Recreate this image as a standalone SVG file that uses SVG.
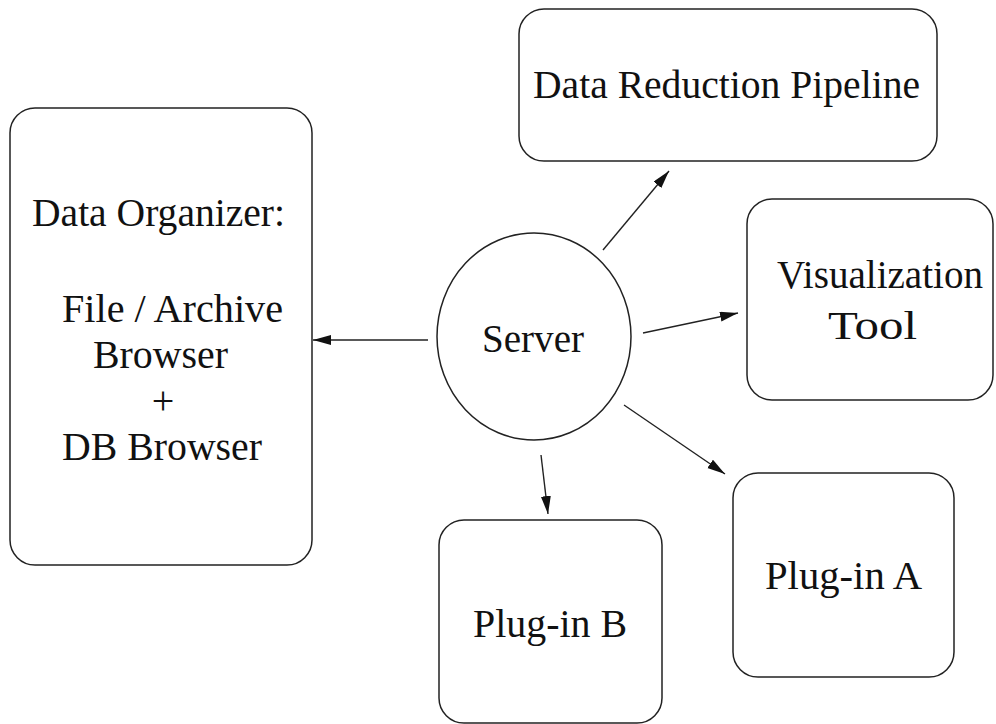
<svg xmlns="http://www.w3.org/2000/svg" width="996" height="724" viewBox="0 0 996 724">
<defs>
<style>
.box{fill:#fff;stroke:#222;stroke-width:1.5}
.lbl{font-family:"Liberation Serif","Times New Roman",serif;font-size:40px;fill:#111;text-anchor:middle}
.conn{stroke:#222;stroke-width:1.4;fill:none;marker-end:url(#ah)}
</style>
<marker id="ah" markerUnits="userSpaceOnUse" markerWidth="20" markerHeight="12" refX="18" refY="5" orient="auto">
<path d="M0,0 L18,5 L0,10 Z" fill="#111"/>
</marker>
</defs>
<rect width="996" height="724" fill="#fff"/>
<g id="connectors">
<line class="conn" x1="428" y1="340" x2="313" y2="340"/>
<line class="conn" x1="603" y1="250" x2="669" y2="171"/>
<line class="conn" x1="643" y1="333" x2="738" y2="313"/>
<line class="conn" x1="624" y1="405" x2="725" y2="474"/>
<line class="conn" x1="541" y1="455" x2="548" y2="514"/>
</g>
<g id="data-organizer">
<rect class="box" x="10" y="108" width="302" height="457" rx="25" ry="25"/>
<text class="lbl" x="158.5" y="226" textLength="253" lengthAdjust="spacingAndGlyphs">Data Organizer:</text>
<text class="lbl" x="172.5" y="322" textLength="221" lengthAdjust="spacingAndGlyphs">File / Archive</text>
<text class="lbl" x="160.5" y="368" textLength="135" lengthAdjust="spacingAndGlyphs">Browser</text>
<text class="lbl" x="163" y="414">+</text>
<text class="lbl" x="162" y="460" textLength="200" lengthAdjust="spacingAndGlyphs">DB Browser</text>
</g>
<g id="server">
<ellipse class="box" cx="534" cy="336.5" rx="97" ry="103.5"/>
<text class="lbl" x="533" y="352" textLength="102" lengthAdjust="spacingAndGlyphs">Server</text>
</g>
<g id="data-reduction-pipeline">
<rect class="box" x="519" y="9" width="418" height="152" rx="25" ry="25"/>
<text class="lbl" x="726.5" y="98" textLength="387" lengthAdjust="spacingAndGlyphs">Data Reduction Pipeline</text>
</g>
<g id="visualization-tool">
<rect class="box" x="747" y="199" width="246" height="201" rx="25" ry="25"/>
<text class="lbl" x="880" y="288" textLength="206" lengthAdjust="spacingAndGlyphs">Visualization</text>
<text class="lbl" x="872.5" y="339" textLength="89" lengthAdjust="spacingAndGlyphs">Tool</text>
</g>
<g id="plugin-a">
<rect class="box" x="733" y="473" width="221" height="204" rx="25" ry="25"/>
<text class="lbl" x="843.5" y="589" textLength="157" lengthAdjust="spacingAndGlyphs">Plug-in A</text>
</g>
<g id="plugin-b">
<rect class="box" x="439" y="520" width="223" height="203" rx="25" ry="25"/>
<text class="lbl" x="550" y="637" textLength="154" lengthAdjust="spacingAndGlyphs">Plug-in B</text>
</g>
</svg>
